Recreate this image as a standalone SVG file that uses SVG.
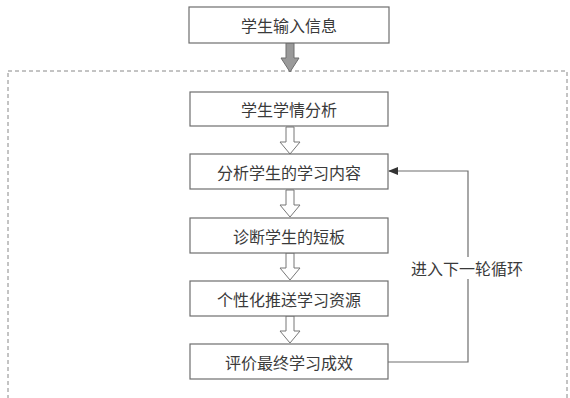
<svg xmlns="http://www.w3.org/2000/svg" width="570" height="398" viewBox="0 0 570 398">
<style>
.box{fill:#fff;stroke:#6e6e6e;stroke-width:1.2}
.t{font-family:"Noto Sans CJK SC","Noto Sans",sans-serif;font-size:16px;fill:#3a3a3a;text-anchor:middle;dominant-baseline:central}
.ha{fill:#fff;stroke:#777;stroke-width:1}
.ln{fill:none;stroke:#6e6e6e;stroke-width:1.2}
</style>
<defs>
<marker id="ah" markerWidth="10" markerHeight="8" refX="9" refY="4" orient="auto" markerUnits="userSpaceOnUse">
<path d="M0,0 L10,4 L0,8 Z" fill="#333"/>
</marker>
</defs>
<rect width="570" height="398" fill="#fff"/>
<rect x="8" y="71" width="559" height="340" fill="none" stroke="#888" stroke-width="1" stroke-dasharray="4,3"/>
<g id="connectors">
<path d="M286,43 L294,43 L294,58 L299,58 L290,72 L281,58 L286,58 Z" fill="#9a9a9a" stroke="#6e6e6e" stroke-width="1"/>
<path class="ha" d="M286,127 L294,127 L294,142 L300,142 L290,154 L280,142 L286,142 Z"/>
<path class="ha" d="M286,190 L294,190 L294,205 L300,205 L290,217 L280,205 L286,205 Z"/>
<path class="ha" d="M286,253 L294,253 L294,268 L300,268 L290,280 L280,268 L286,268 Z"/>
<path class="ha" d="M286,316 L294,316 L294,331 L300,331 L290,343 L280,331 L286,331 Z"/>
<path class="ln" d="M388,362 L468,362 L468,171 L389,171" marker-end="url(#ah)"/>
<rect x="406" y="257" width="122" height="22" fill="#fff"/>
<text class="t" x="467" y="268">进入下一轮循环</text>
</g>
<g id="n0"><rect class="box" x="189" y="7" width="200" height="36"/><text class="t" x="289" y="25">学生输入信息</text></g>
<g id="n1"><rect class="box" x="190" y="92" width="198" height="34"/><text class="t" x="289" y="109">学生学情分析</text></g>
<g id="n2"><rect class="box" x="190" y="154" width="198" height="35"/><text class="t" x="289" y="171.5">分析学生的学习内容</text></g>
<g id="n3"><rect class="box" x="190" y="218" width="198" height="35"/><text class="t" x="289" y="235.5">诊断学生的短板</text></g>
<g id="n4"><rect class="box" x="190" y="281" width="198" height="35"/><text class="t" x="289" y="298.5">个性化推送学习资源</text></g>
<g id="n5"><rect class="box" x="190" y="344" width="198" height="35"/><text class="t" x="289" y="361.5">评价最终学习成效</text></g>
</svg>
